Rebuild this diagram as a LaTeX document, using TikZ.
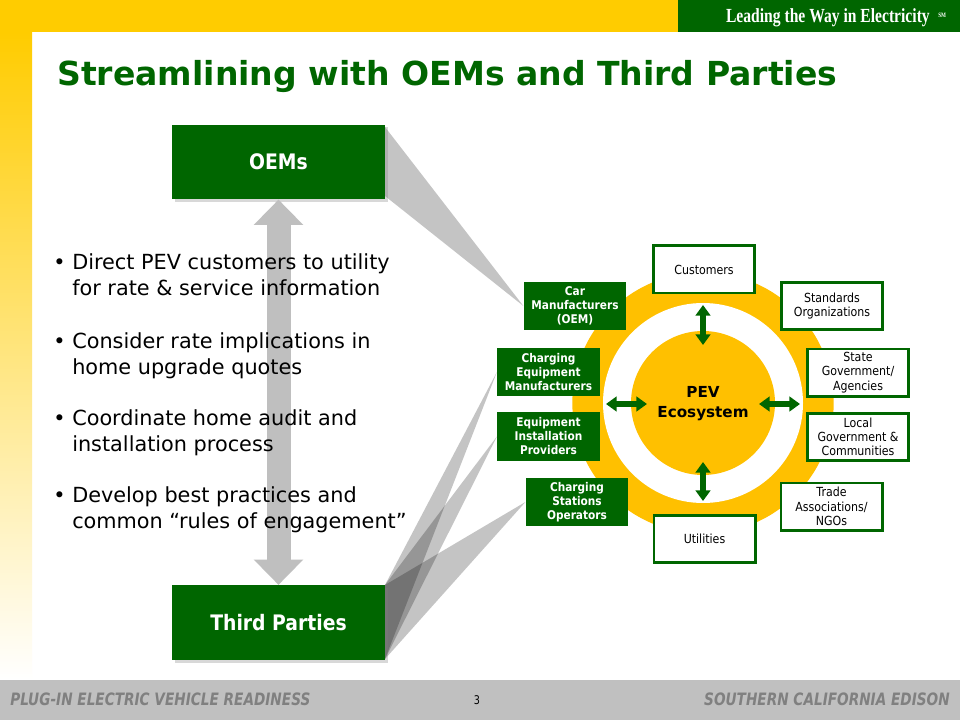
\documentclass[tikz,border=0pt]{standalone}
\usepackage{fontspec}
\setmainfont{DejaVu Sans}
\newfontfamily\condfont[FakeStretch=0.88]{DejaVu Sans}
\newfontfamily\footfont[FakeStretch=0.80]{DejaVu Sans}
\newfontfamily\headfont[FakeStretch=0.78]{Liberation Serif}
\usetikzlibrary{arrows.meta,shadows}
\definecolor{dg}{RGB}{0,102,0}
\definecolor{band}{RGB}{255,204,0}
\definecolor{gold}{RGB}{255,192,0}
\definecolor{foot}{RGB}{192,192,192}
\definecolor{foottext}{RGB}{128,128,128}
\tikzset{
    bigbox/.style = {rectangle,
                    fill=dg,
                    text=white,
                    font=\condfont\bfseries\fontsize{16}{18}\selectfont,
                    minimum width=160pt,
                    minimum height=56pt,
                    drop shadow={shadow xshift=2pt,shadow yshift=-2pt,opacity=0.3}},
    player/.style = {rectangle,
                    fill=dg,
                    text=white,
                    align=center,
                    font=\condfont\bfseries\fontsize{9}{10.5}\selectfont,
                    minimum width=77pt,
                    minimum height=36.5pt,
                    inner sep=1pt},
    party/.style =  {rectangle,
                    fill=white,
                    draw=dg,
                    line width=2pt,
                    text=black,
                    align=center,
                    font=\condfont\fontsize{9.4}{10.7}\selectfont,
                    minimum width=76pt,
                    minimum height=35.5pt,
                    inner sep=1pt},
    bullet/.style = {anchor=base west,
                    align=left,
                    inner sep=0pt,
                    font=\fontsize{15.6}{19.5}\selectfont},
    wedge/.style =  {fill=black,
                    fill opacity=0.23},
    bigarrow/.style = {draw=gray!50,
                    line width=18pt,
                    {Triangle[length=19pt,width=36pt]}-{Triangle[length=19pt,width=36pt]}},
    linkarrow/.style = {draw=dg,
                    line width=3.8pt,
                    {Triangle[length=8pt,width=11pt]}-{Triangle[length=8pt,width=11pt]}}
}
\newcommand{\bul}{\llap{\textbullet\hspace{5pt}}}

\begin{document}
\begin{tikzpicture}[x=0.75pt,y=-0.75pt]
    \useasboundingbox (0,0) rectangle (960,720);

    % frame
    \fill[white] (0,0) rectangle (960,720);
    \fill[band] (0,0) rectangle (678,32);
    \shade[top color=band,bottom color=white] (0,32) rectangle (32,680);
    \fill[dg] (678,0) rectangle (960,32);
    \fill[foot] (0,680) rectangle (960,720);

    \node[anchor=base east,text=white,inner sep=0pt,
          font=\headfont\bfseries\fontsize{15}{16}\selectfont] (tag) at (930,23) {Leading the Way in Electricity};
    \node[anchor=base west,text=white,inner sep=0pt,
          font=\headfont\bfseries\fontsize{5}{5}\selectfont] (sm) at (938,18) {SM};

    \node[anchor=base west,text=dg,inner sep=0pt,
          font=\bfseries\fontsize{24.8}{26}\selectfont] (title) at (57,86) {Streamlining with OEMs and Third Parties};

    \node[anchor=base west,text=foottext,inner sep=0pt,
          font=\footfont\bfseries\itshape\fontsize{12.8}{14}\selectfont] (fl) at (10,705) {PLUG-IN ELECTRIC VEHICLE READINESS};
    \node[anchor=base,text=black,inner sep=0pt,
          font=\footfont\fontsize{9}{10}\selectfont] (pg) at (477,704) {3};
    \node[anchor=base east,text=foottext,inner sep=0pt,
          font=\footfont\bfseries\itshape\fontsize{12.8}{14}\selectfont] (fr) at (950,705) {SOUTHERN CALIFORNIA EDISON};

    % ecosystem rings
    \coordinate (ctr) at (703,403);
    \fill[gold] (ctr) circle (98pt);
    \fill[white] (ctr) circle (75pt);
    \fill[gold] (ctr) circle (54pt);
    \node[align=center,font=\bfseries\fontsize{11.4}{15}\selectfont] (pev) at (703,404) {PEV\\Ecosystem};

    \coordinate (up1) at (703,305);
    \coordinate (up2) at (703,345);
    \coordinate (dn1) at (703,462);
    \coordinate (dn2) at (703,501);
    \coordinate (lf1) at (606,404);
    \coordinate (lf2) at (647,404);
    \coordinate (rt1) at (759,404);
    \coordinate (rt2) at (800,404);
    \draw[linkarrow] (up1) -- (up2);
    \draw[linkarrow] (dn1) -- (dn2);
    \draw[linkarrow] (lf1) -- (lf2);
    \draw[linkarrow] (rt1) -- (rt2);

    \node[player] (car)  at (575,306)   {Car\\Manufacturers\\(OEM)};
    \node[player] (cem)  at (548.5,372) {Charging\\Equipment\\Manufacturers};
    \node[player] (eip)  at (548.5,436.5) {Equipment\\Installation\\Providers};
    \node[player] (cso)  at (577,502)   {Charging\\Stations\\Operators};

    \node[party] (cust)  at (704,269.5) {Customers};
    \node[party] (util)  at (704.5,539) {Utilities};
    \node[party] (std)   at (832,306)   {Standards\\Organizations};
    \node[party] (state) at (858,372.5) {State\\Government/\\Agencies};
    \node[party] (local) at (858,437)   {Local\\Government \&\\Communities};
    \node[party] (trade) at (831.5,506.5) {Trade\\Associations/\\NGOs};

    % left side
    \coordinate (oemtop) at (385,127);
    \coordinate (oembot) at (385,196);
    \coordinate (tptop)  at (385,585);
    \coordinate (tpbot)  at (385,659);
    \fill[wedge] (oemtop) -- (car.west) -- (oembot) -- cycle;
    \fill[wedge] (tptop) -- (cem.west) -- (tpbot) -- cycle;
    \fill[wedge] (tptop) -- (eip.west) -- (tpbot) -- cycle;
    \fill[wedge] (tptop) -- (cso.west) -- (tpbot) -- cycle;

    \node[bigbox] (oem) at (278.5,162)  {OEMs};
    \node[bigbox] (tp)  at (278.5,622.5) {Third Parties};
    \draw[bigarrow] (oem.south) -- (tp.north);

    \node[bullet] (b1) at (72,296) {\bul Direct PEV customers to utility\\for rate \& service information};
    \node[bullet] (b2) at (72,374) {\bul Consider rate implications in\\home upgrade quotes};
    \node[bullet] (b3) at (72,451) {\bul Coordinate home audit and\\installation process};
    \node[bullet] (b4) at (72,528) {\bul Develop best practices and\\common “rules of engagement”};
\end{tikzpicture}
\end{document}
